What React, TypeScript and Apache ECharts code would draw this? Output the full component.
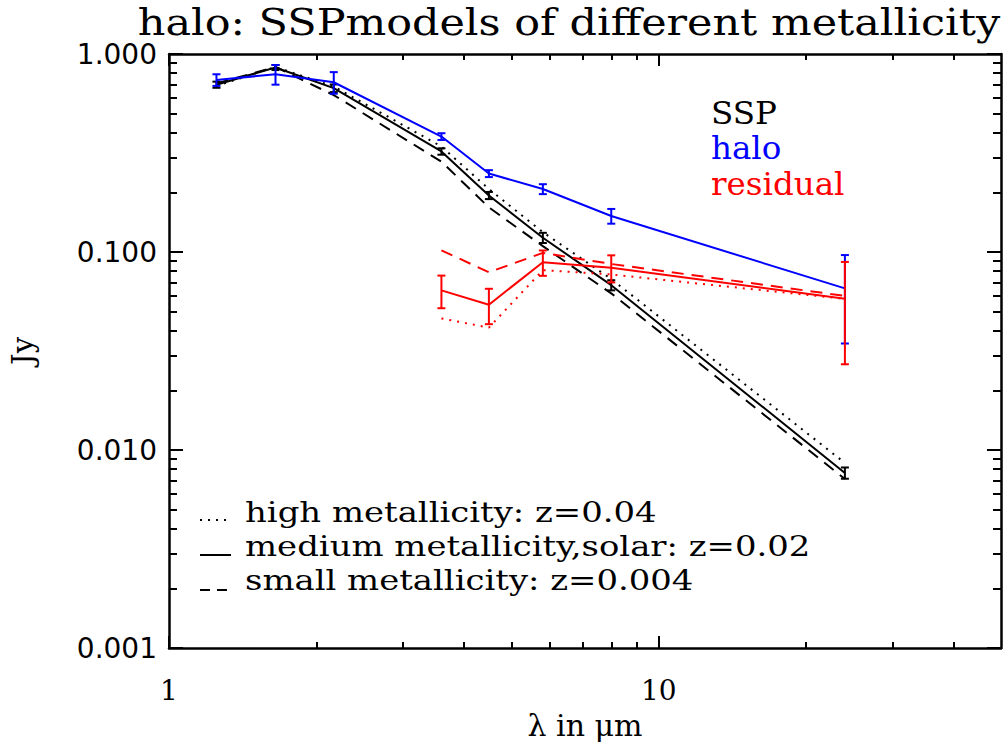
import React, { useEffect, useRef } from "react";
import * as echarts from "echarts";

// ---- data ----
const wavelengths = [1.25, 1.65, 2.17, 3.6, 4.5, 5.8, 8.0, 24];
const sspSolar = [0.70, 0.855, 0.672, 0.322, 0.193, 0.118, 0.068, 0.00766];
const sspSolarErr = [0.025, 0.025, 0.03, 0.012, 0.008, 0.007, 0.004, 0.0005];
const sspHigh = [0.69, 0.86, 0.685, 0.341, 0.208, 0.126, 0.073, 0.0086];
const sspLow = [0.71, 0.86, 0.62, 0.286, 0.168, 0.107, 0.0618, 0.00714];
const halo = [0.74, 0.79, 0.72, 0.383, 0.249, 0.208, 0.152, 0.0655];
const haloErr = [0.05, 0.09, 0.09, 0.015, 0.01, 0.012, 0.013, 0.031];
const resWavelengths = [3.6, 4.5, 5.8, 8.0, 24];
const residualSolar = [0.064, 0.0542, 0.0888, 0.0832, 0.0581];
const residualErr = [0.012, 0.011, 0.013, 0.013, 0.031];
const residualHigh = [0.0462, 0.0415, 0.081, 0.077, 0.058];
const residualLow = [0.102, 0.079, 0.099, 0.087, 0.060];

const majorX = [1, 10];
const minorX = [2, 3, 4, 5, 6, 7, 8, 9, 20, 30, 40];
const majorY = [0.001, 0.01, 0.1, 1];
const minorY = [
  0.002, 0.003, 0.004, 0.005, 0.006, 0.007, 0.008, 0.009,
  0.02, 0.03, 0.04, 0.05, 0.06, 0.07, 0.08, 0.09,
  0.2, 0.3, 0.4, 0.5, 0.6, 0.7, 0.8, 0.9,
];

const titleText = "halo: SSPmodels of different metallicity";
const legendRight = [
  { text: "SSP", color: "#000000" },
  { text: "halo", color: "#0000ff" },
  { text: "residual", color: "#ff0000" },
];
const legendLeft = [
  { text: "high metallicity: z=0.04", dash: [2, 6] },
  { text: "medium metallicity,solar: z=0.02", dash: null },
  { text: "small metallicity: z=0.004", dash: [10, 7] },
];

const BLACK = "#000000";
const BLUE = "#0000ff";
const RED = "#ff0000";
const DOTTED = [2, 6];
const DASHED = [12, 8];

function pairs(xs: number[], ys: number[]) {
  return xs.map((x, i) => [x, ys[i]]);
}

function lineSeries(xs: number[], ys: number[], color: string, dash: any, z = 2) {
  return {
    type: "line",
    data: pairs(xs, ys),
    showSymbol: false,
    symbol: "none",
    lineStyle: { color, width: 2, type: dash || "solid" },
    z,
    silent: true,
  };
}

function errorSeries(xs: number[], ys: number[], errs: number[], color: string, z = 3) {
  return {
    type: "custom",
    data: xs.map((x, i) => [x, ys[i] - errs[i], ys[i] + errs[i]]),
    encode: { x: 0, y: [1, 2] },
    z,
    silent: true,
    renderItem: (_params: any, api: any) => {
      const lo = api.coord([api.value(0), api.value(1)]);
      const hi = api.coord([api.value(0), api.value(2)]);
      const hw = 4;
      const st = { stroke: color, lineWidth: 2 };
      return {
        type: "group",
        children: [
          { type: "line", shape: { x1: lo[0], y1: lo[1], x2: hi[0], y2: hi[1] }, style: st },
          { type: "line", shape: { x1: lo[0] - hw, y1: lo[1], x2: lo[0] + hw, y2: lo[1] }, style: st },
          { type: "line", shape: { x1: hi[0] - hw, y1: hi[1], x2: hi[0] + hw, y2: hi[1] }, style: st },
        ],
      };
    },
  };
}

const axisLineStyle = { color: BLACK, width: 2.5 };
const tickLineStyle = { color: BLACK, width: 2 };

function xAxes() {
  const base = { type: "log", logBase: 10, min: 1, max: 50, splitLine: { show: false } };
  return [
    {
      ...base,
      position: "bottom",
      axisLine: { show: true, onZero: false, lineStyle: axisLineStyle },
      axisTick: { show: true, inside: true, length: 12, lineStyle: tickLineStyle, customValues: majorX },
      axisLabel: {
        show: true,
        customValues: majorX,
        color: BLACK,
        fontFamily: "DejaVu Serif",
        fontSize: 28,
        margin: 28,
        formatter: (v: number) => String(Math.round(v)),
      },
      name: "λ in μm",
      nameLocation: "middle",
      nameGap: 62,
      nameTextStyle: { color: BLACK, fontFamily: "DejaVu Serif", fontSize: 30 },
    },
    {
      ...base,
      position: "bottom",
      axisLine: { show: false },
      axisTick: { show: true, inside: true, length: 6, lineStyle: tickLineStyle, customValues: minorX },
      axisLabel: { show: false },
    },
    {
      ...base,
      position: "top",
      axisLine: { show: true, onZero: false, lineStyle: axisLineStyle },
      axisTick: { show: true, inside: true, length: 12, lineStyle: tickLineStyle, customValues: majorX },
      axisLabel: { show: false },
    },
    {
      ...base,
      position: "top",
      axisLine: { show: false },
      axisTick: { show: true, inside: true, length: 6, lineStyle: tickLineStyle, customValues: minorX },
      axisLabel: { show: false },
    },
  ];
}

function yAxes() {
  const base = { type: "log", logBase: 10, min: 0.001, max: 1, splitLine: { show: false } };
  return [
    {
      ...base,
      position: "left",
      axisLine: { show: true, onZero: false, lineStyle: axisLineStyle },
      axisTick: { show: true, inside: true, length: 14, lineStyle: tickLineStyle, customValues: majorY },
      axisLabel: {
        show: true,
        customValues: majorY,
        color: BLACK,
        fontFamily: "DejaVu Sans",
        fontSize: 28,
        margin: 12,
        formatter: (v: number) => v.toFixed(3),
      },
      name: "Jy",
      nameLocation: "middle",
      nameGap: 132,
      nameRotate: 90,
      nameTextStyle: { color: BLACK, fontFamily: "DejaVu Serif", fontSize: 29 },
    },
    {
      ...base,
      position: "left",
      axisLine: { show: false },
      axisTick: { show: true, inside: true, length: 8, lineStyle: tickLineStyle, customValues: minorY },
      axisLabel: { show: false },
    },
    {
      ...base,
      position: "right",
      axisLine: { show: true, onZero: false, lineStyle: axisLineStyle },
      axisTick: { show: true, inside: true, length: 14, lineStyle: tickLineStyle, customValues: majorY },
      axisLabel: { show: false },
    },
    {
      ...base,
      position: "right",
      axisLine: { show: false },
      axisTick: { show: true, inside: true, length: 8, lineStyle: tickLineStyle, customValues: minorY },
      axisLabel: { show: false },
    },
  ];
}

function textEl(text: string, x: number, y: number, size: number, color: string, align: string, scaleX: number) {
  return {
    type: "text",
    x,
    y,
    scaleX,
    silent: true,
    style: {
      text,
      fill: color,
      font: `${size}px "DejaVu Serif"`,
      textAlign: align,
      align,
      textVerticalAlign: "middle",
      verticalAlign: "middle",
    },
  };
}

function graphics() {
  const els: any[] = [];
  els.push(textEl(titleText, 569, 22, 37, BLACK, "center", 1.16));
  const rightY = [113, 148, 184];
  legendRight.forEach((l, i) => els.push(textEl(l.text, 711, rightY[i], 31, l.color, "left", 1.05)));
  const leftY = [512, 546, 580];
  const sampleY = [520, 555, 590];
  legendLeft.forEach((l, i) => {
    els.push(textEl(l.text, 245, leftY[i], 28, BLACK, "left", 1.21));
    els.push({
      type: "line",
      silent: true,
      shape: { x1: 200, y1: sampleY[i], x2: 231, y2: sampleY[i] },
      style: { stroke: BLACK, lineWidth: 2, lineDash: l.dash || undefined },
    });
  });
  return els;
}

export default function App() {
  const ref = useRef<HTMLDivElement>(null);
  useEffect(() => {
    if (!ref.current) return;
    const chart = echarts.init(ref.current, undefined, { renderer: "svg" });
    chart.setOption({
      animation: false,
      backgroundColor: "#ffffff",
      grid: { left: 160, right: 7, top: 54, bottom: 99, containLabel: false },
      xAxis: xAxes(),
      yAxis: yAxes(),
      series: [
        lineSeries(wavelengths, sspHigh, BLACK, DOTTED),
        lineSeries(wavelengths, sspLow, BLACK, DASHED),
        lineSeries(wavelengths, sspSolar, BLACK, null),
        errorSeries(wavelengths, sspSolar, sspSolarErr, BLACK),
        lineSeries(wavelengths, halo, BLUE, null, 4),
        errorSeries(wavelengths, halo, haloErr, BLUE, 4),
        lineSeries(resWavelengths, residualHigh, RED, DOTTED, 5),
        lineSeries(resWavelengths, residualLow, RED, DASHED, 5),
        lineSeries(resWavelengths, residualSolar, RED, null, 5),
        errorSeries(resWavelengths, residualSolar, residualErr, RED, 6),
      ],
      graphic: graphics(),
    });
    return () => chart.dispose();
  }, []);
  return (
    <div
      ref={ref}
      style={{ position: "fixed", left: 0, top: 0, width: 1008, height: 747, background: "#fff" }}
    />
  );
}
